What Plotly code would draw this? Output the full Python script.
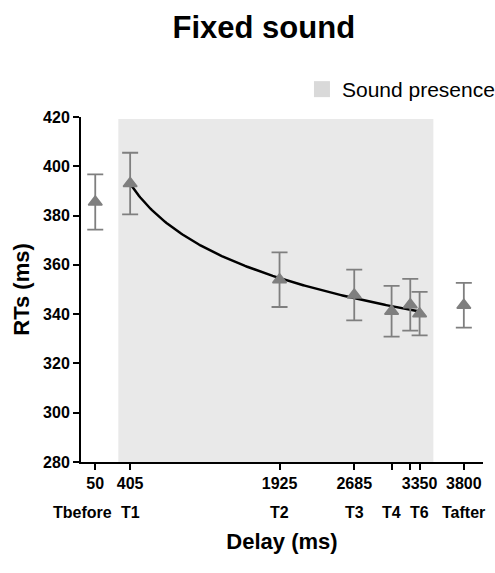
import numpy as np
import plotly.graph_objects as go

# ---- data ----
point_labels = ["Tbefore", "T1", "T2", "T3", "T4", "T5", "T6", "Tafter"]
delays_ms = [50, 405, 1925, 2685, 3065, 3255, 3350, 3800]
rt_mean = [385.5, 393.0, 354.0, 347.8, 341.2, 343.8, 340.2, 343.6]
rt_sem = [11.2, 12.5, 11.1, 10.3, 10.3, 10.5, 8.8, 9.1]

tick_values = [50, 405, 1925, 2685, 3065, 3255, 3350, 3800]
tick_labels = ["50", "405", "1925", "2685", "", "", "3350", "3800"]
group_labels = ["Tbefore", "T1", "T2", "T3", "T4", "", "T6", "Tafter"]

sound_start, sound_end = 285, 3490
y_min, y_max = 280, 420
x_min, x_max = -95, 3995

# fit (log) over the sound-presence points T1..T6
fit_idx = [1, 2, 3, 4, 5, 6]
fx = np.array([delays_ms[i] for i in fit_idx], dtype=float)
fy = np.array([rt_mean[i] for i in fit_idx], dtype=float)
b, a = np.polyfit(np.log(fx), fy, 1)
curve_x = np.linspace(fx.min(), fx.max(), 200)
curve_y = a + b * np.log(curve_x)

FONT = "Liberation Sans, Arial, Helvetica, sans-serif"
GREY = "#7f7f7f"

fig = go.Figure()

# legend entry for the shaded region
fig.add_trace(go.Scatter(
    x=[None], y=[None], mode="markers", name="Sound presence",
    marker=dict(symbol="square", size=16, color="#d9d9d9"),
    showlegend=True, hoverinfo="skip"))

fig.add_trace(go.Scatter(
    x=curve_x, y=curve_y, mode="lines",
    line=dict(color="black", width=2.5), showlegend=False, hoverinfo="skip"))

fig.add_trace(go.Scatter(
    x=delays_ms, y=rt_mean, mode="markers", text=point_labels,
    marker=dict(symbol="triangle-up", size=12, color=GREY,
                line=dict(color=GREY, width=1.5)),
    error_y=dict(type="data", array=rt_sem, visible=True,
                 color=GREY, thickness=1.8, width=8),
    showlegend=False))

fig.add_shape(type="rect", xref="x", yref="y",
              x0=sound_start, x1=sound_end, y0=y_min, y1=y_max - 0.8,
              fillcolor="#e9e9e9", line=dict(width=0), layer="below")

for xv, lab in zip(delays_ms, group_labels):
    if not lab:
        continue
    fig.add_annotation(
        x=xv, xref="x", y=-0.145, yref="paper", text=lab, showarrow=False,
        xanchor="center", yanchor="middle",
        xshift=-13 if lab == "Tbefore" else 0,
        font=dict(family=FONT, size=16, color="black", weight="bold"))

fig.update_layout(
    width=495, height=573,
    margin=dict(l=81, r=12, t=117, b=111, autoexpand=False),
    paper_bgcolor="white", plot_bgcolor="white",
    font=dict(family=FONT, color="black"),
    title=dict(text="Fixed sound", x=0.533, xref="container", xanchor="center",
               y=1 - 27 / 573, yref="container", yanchor="middle",
               font=dict(family=FONT, size=31, color="black", weight="bold")),
    legend=dict(x=0.61, xref="container", xanchor="left",
                y=1 - 69 / 573, yref="container", yanchor="top",
                bgcolor="rgba(0,0,0,0)", borderwidth=0,
                font=dict(family=FONT, size=21, color="black")),
    xaxis=dict(range=[x_min, x_max], tickmode="array",
               tickvals=tick_values, ticktext=tick_labels, tickangle=0,
               showgrid=False, zeroline=False, showline=True,
               linecolor="black", linewidth=2, ticks="outside",
               ticklen=6, tickwidth=1.5, tickcolor="black",
               tickfont=dict(family=FONT, size=16, color="black", weight="bold"),
               title=dict(text="Delay (ms)", standoff=42,
                          font=dict(family=FONT, size=22, color="black", weight="bold"))),
    yaxis=dict(range=[y_min, y_max], tickmode="array",
               tickvals=list(range(280, 421, 20)),
               showgrid=False, zeroline=False, showline=True,
               linecolor="black", linewidth=2, ticks="outside",
               ticklen=6, tickwidth=1.5, tickcolor="black",
               tickfont=dict(family=FONT, size=16, color="black", weight="bold"),
               title=dict(text="RTs (ms)", standoff=7,
                          font=dict(family=FONT, size=22, color="black", weight="bold"))),
)

fig.write_html("out.html", config={"displayModeBar": False},
               post_script="document.body.style.margin='0';")
